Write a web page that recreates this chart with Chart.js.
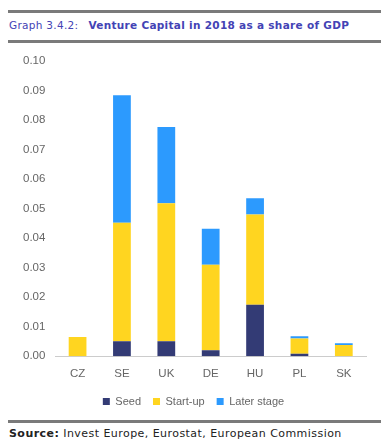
<!DOCTYPE html>
<html>
<head>
<meta charset="utf-8">
<script src="https://cdn.jsdelivr.net/npm/chart.js@4"></script>
<style>
  body { margin: 0; background: #fff; font-family: "DejaVu Sans", sans-serif; }
  #page { position: relative; width: 381px; height: 440px; overflow: hidden; }
  .rule { position: absolute; left: 8px; right: 0; height: 3px; background: #7a7a7a; }
  #title { position: absolute; left: 9px; top: 19px; font-size: 10.5px; color: #4343b5; white-space: nowrap; letter-spacing: 0.3px; }
  #title b { margin-left: 10px; }
  #source { position: absolute; left: 9px; top: 427px; font-size: 11px; color: #222; white-space: nowrap; letter-spacing: 0.45px; }
  #wrap { position: absolute; left: 0; top: 48px; width: 381px; height: 369px; }
</style>
</head>
<body>
<div id="page">
  <div class="rule" style="top:10px"></div>
  <div id="title">Graph 3.4.2:<b>Venture Capital in 2018 as a share of GDP</b></div>
  <div class="rule" style="top:40px"></div>
  <div id="wrap"><canvas id="chart"></canvas></div>
  <div class="rule" style="top:420px"></div>
  <div id="source"><b>Source:</b> Invest Europe, Eurostat, European Commission</div>
</div>
<script>
const countries = ['CZ', 'SE', 'UK', 'DE', 'HU', 'PL', 'SK'];
const seed = [0.0, 0.0051, 0.0051, 0.0020, 0.0174, 0.0008, 0.0];
const startUp = [0.0065, 0.0401, 0.0467, 0.0290, 0.0306, 0.0052, 0.0038];
const laterStage = [0.0, 0.0432, 0.0258, 0.0122, 0.0055, 0.0008, 0.0006];

const tickColor = '#666';
const tickFont = { size: 11.5, family: 'Liberation Sans' };

function makeSet(label, data, color) {
  return {
    label: label,
    data: data,
    backgroundColor: color,
    borderWidth: 0,
    barPercentage: 0.4,
    categoryPercentage: 1.0
  };
}

const ctx = document.getElementById('chart').getContext('2d');
const vcChart = new Chart(ctx, {
  type: 'bar',
  data: {
    labels: countries,
    datasets: [
      makeSet('Seed', seed, '#333b75'),
      makeSet('Start-up', startUp, '#ffd520'),
      makeSet('Later stage', laterStage, '#2c9afe')
    ]
  },
  options: {
    responsive: true,
    maintainAspectRatio: false,
    animation: false,
    layout: { padding: { top: 13, right: 15, left: 21, bottom: 0 } },
    plugins: {
      legend: {
        position: 'bottom',
        labels: {
          boxWidth: 7,
          boxHeight: 7,
          padding: 12,
          color: '#666',
          font: { size: 11, family: 'Liberation Sans' }
        }
      },
      tooltip: { enabled: false }
    },
    scales: {
      x: {
        stacked: true,
        grid: { display: false },
        border: { color: '#ccc' },
        ticks: { color: tickColor, font: tickFont }
      },
      y: {
        stacked: true,
        min: 0,
        max: 0.1,
        grid: { display: false },
        border: { display: false },
        ticks: {
          stepSize: 0.01,
          padding: 2,
          color: tickColor,
          font: tickFont,
          callback: v => v.toFixed(2)
        }
      }
    }
  }
});
</script>
</body>
</html>
